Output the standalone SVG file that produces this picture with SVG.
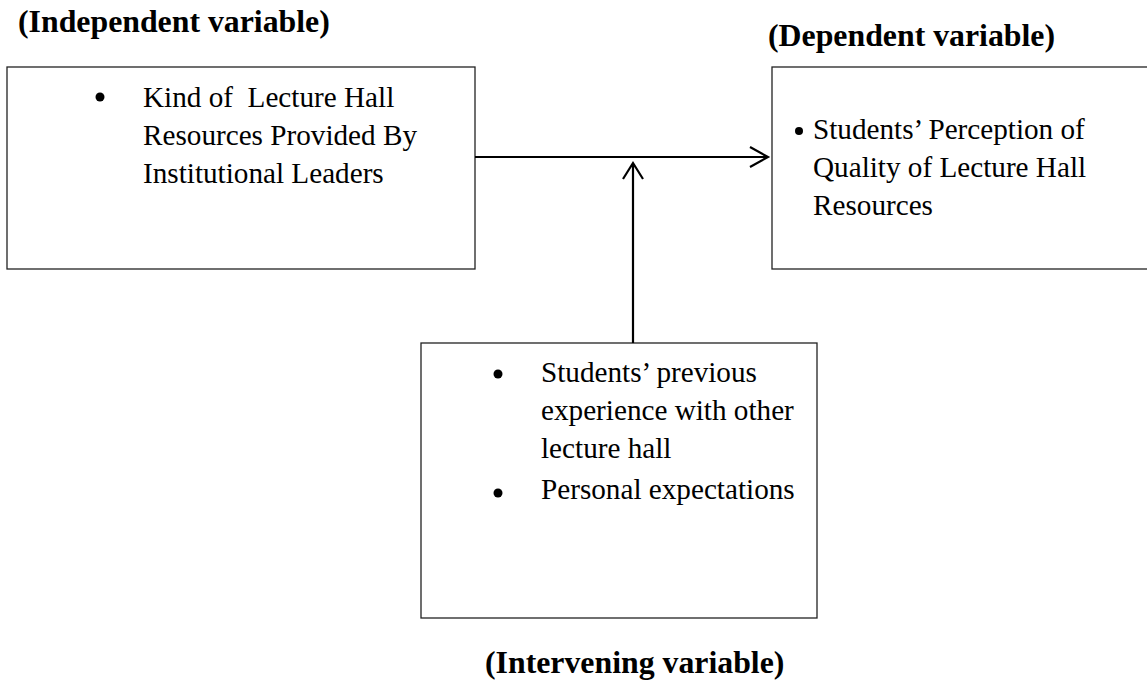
<svg xmlns="http://www.w3.org/2000/svg" width="1147" height="681" viewBox="0 0 1147 681">
<style>
.box{fill:#fff;stroke:#222;stroke-width:1.3}
.t{font-family:"Liberation Serif","Times New Roman",serif;font-size:29.2px;fill:#000}
.h{font-family:"Liberation Serif","Times New Roman",serif;font-size:31.8px;font-weight:bold;fill:#000}
.c{stroke:#000;stroke-width:2.2;fill:none}
.b{fill:#000}
</style>
<rect width="1147" height="681" fill="#fff"/>
<g id="independent">
<text class="h" x="18" y="32">(Independent variable)</text>
<rect class="box" x="7" y="67" width="468" height="202"/>
<circle class="b" cx="100" cy="97" r="4.5"/>
<text class="t" x="143" y="107">Kind of&#160; Lecture Hall</text>
<text class="t" x="143" y="145">Resources Provided By</text>
<text class="t" x="143" y="183">Institutional Leaders</text>
</g>
<g id="dependent">
<text class="h" x="768" y="46">(Dependent variable)</text>
<rect class="box" x="772" y="67" width="380" height="202"/>
<circle class="b" cx="799" cy="131" r="4"/>
<text class="t" x="813" y="139">Students’ Perception of</text>
<text class="t" x="813" y="177">Quality of Lecture Hall</text>
<text class="t" x="813" y="215">Resources</text>
</g>
<g id="intervening">
<rect class="box" x="421" y="343" width="396" height="275"/>
<circle class="b" cx="498" cy="374" r="4.5"/>
<text class="t" x="541" y="382">Students’ previous</text>
<text class="t" x="541" y="420">experience with other</text>
<text class="t" x="541" y="458">lecture hall</text>
<circle class="b" cx="498" cy="493" r="4.5"/>
<text class="t" x="541" y="499">Personal expectations</text>
<text class="h" x="485" y="673">(Intervening variable)</text>
</g>
<g id="connectors">
<path class="c" d="M475 157H768M750 147L768 157L750 167"/>
<path class="c" d="M633 343V163M623 179L633 163L643 179"/>
</g>
</svg>
